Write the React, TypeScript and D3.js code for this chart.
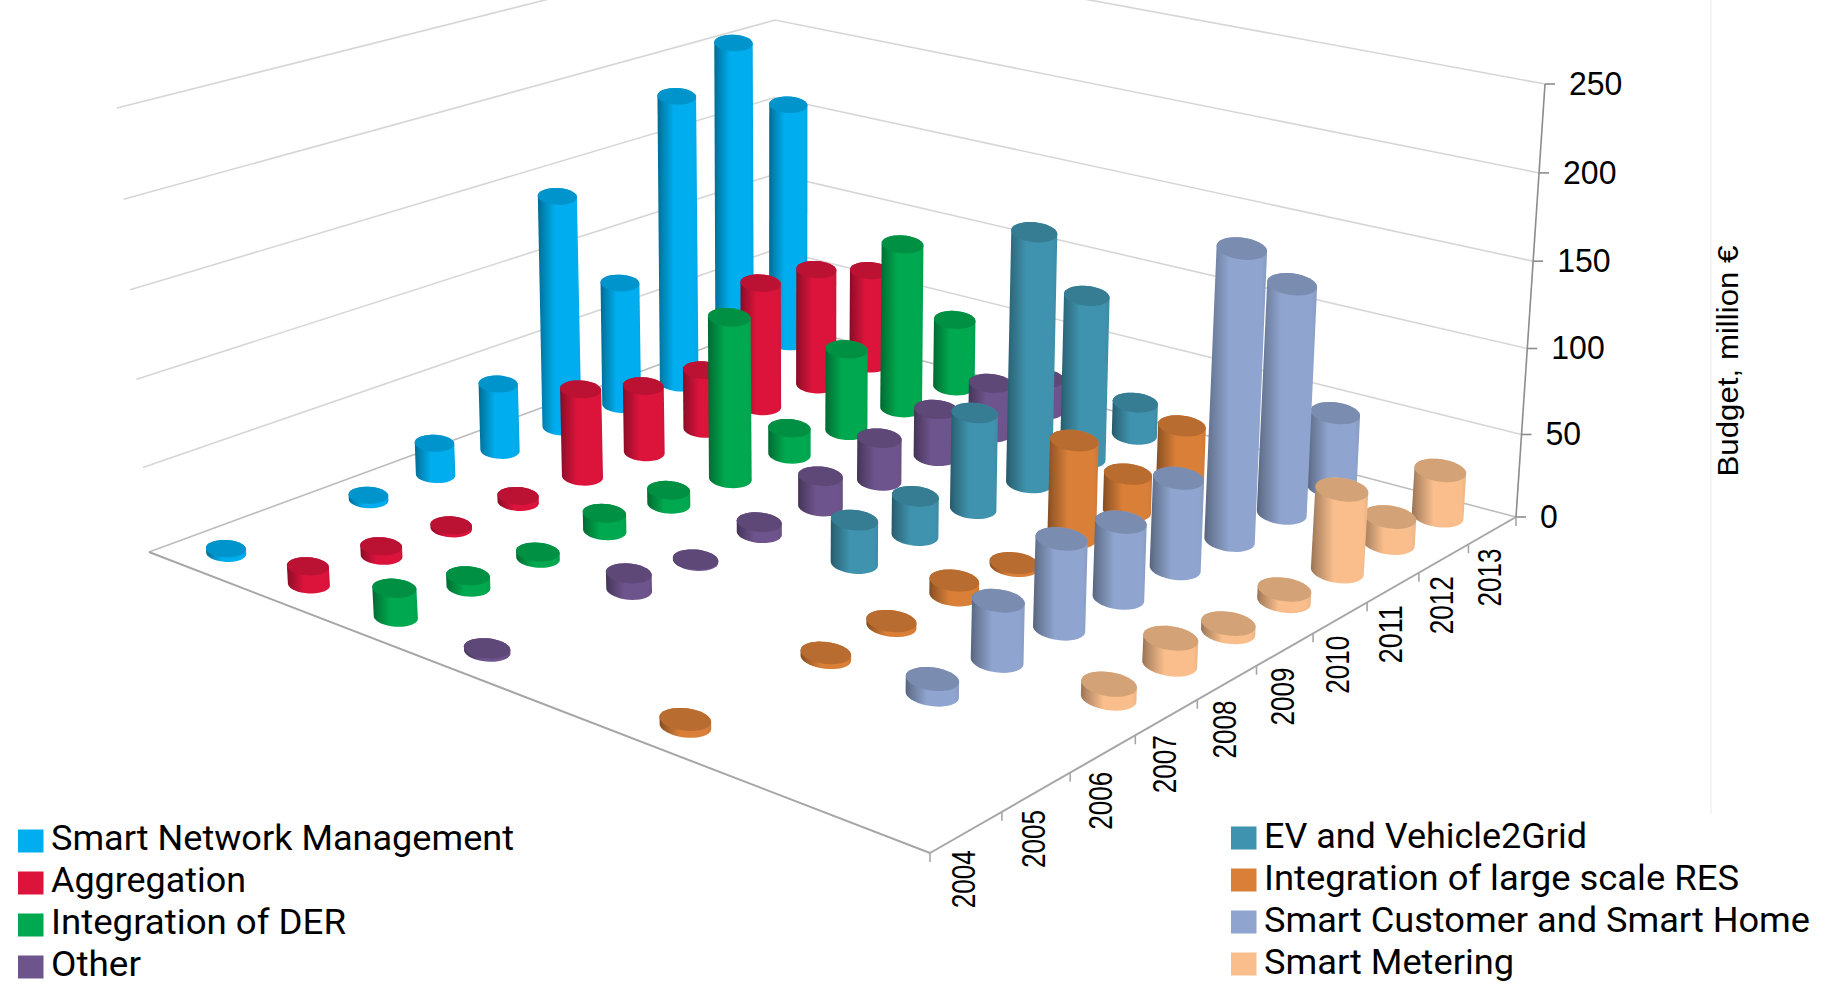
import React from "react";
import * as d3 from "d3";

const years = ["2004","2005","2006","2007","2008","2009","2010","2011","2012","2013"];
const seriesNames = ["Smart Network Management","Aggregation","Integration of DER","Other","EV and Vehicle2Grid","Integration of large scale RES","Smart Customer and Smart Home","Smart Metering"];
const colors = ["#00AEEF","#DC143C","#00A94F","#6E548C","#3F93AE","#D97F38","#8FA5CF","#F9BE8C"];

const smartNetwork = [3,null,3,20,42,143,78,182,205,156];
const aggregation = [11,6,2,4,54,42,38,79,75,62];
const integrationDER = [17,7,4,11,9,98,17,52,104,44];
const other = [2,null,10,1,7,19,27,30,32,21];
const ev = [null,null,null,null,26,24,58,150,100,21];
const largeRES = [4,null,3,3,9,2,58,23,37,null];
const customer = [null,null,9,34,51,44,53,168,135,46];
const metering = [null,null,null,8,15,5,7,48,16,28];
const allSeries = [smartNetwork,aggregation,integrationDER,other,ev,largeRES,customer,metering];

const yTicks = [0,50,100,150,200,250];
const legendLeft = [0,1,2,3];
const legendRight = [4,5,6,7];
const legendWidths = [463,195,295,90,323,475,546,250];

type P = [number, number];
// corners of the box: Left, Bottom(front), Right, Back
const floor: P[] = [[149,552],[930,853],[1516,517],[775,322]];
const roof: P[] = [[117,108],[938,338],[1545,84],[775,-58]];

function quad(c: P[]) {
  const [p0,p1,p2,p3] = c;
  const dx1 = p1[0]-p2[0], dx2 = p3[0]-p2[0], sx = p0[0]-p1[0]+p2[0]-p3[0];
  const dy1 = p1[1]-p2[1], dy2 = p3[1]-p2[1], sy = p0[1]-p1[1]+p2[1]-p3[1];
  const den = dx1*dy2-dx2*dy1;
  const g = (sx*dy2-dx2*sy)/den, h = (dx1*sy-sx*dy1)/den;
  const a = p1[0]-p0[0]+g*p1[0], b = p3[0]-p0[0]+h*p3[0], cc = p0[0];
  const d = p1[1]-p0[1]+g*p1[1], e = p3[1]-p0[1]+h*p3[1], f = p0[1];
  return (u:number,v:number):P => {
    const w = g*u+h*v+1;
    return [(a*u+b*v+cc)/w,(d*u+e*v+f)/w];
  };
}
const floorMap = quad(floor), roofMap = quad(roof);
const zScale = d3.scalePow().exponent(1.03).domain([0,250]).range([0,1]);
const uScale = d3.scaleBand<string>().domain(seriesNames).range([0,1]);
const vScale = d3.scaleBand<string>().domain(years).range([0,1]);

function project(u:number,v:number,z:number):P {
  const a = floorMap(u,v), b = roofMap(u,v), t = zScale(z);
  return [a[0]+(b[0]-a[0])*t, a[1]+(b[1]-a[1])*t];
}
const line = d3.line<P>();
const angles = d3.range(0,360,10).map(d=>d*Math.PI/180);

function ring(u:number,v:number,z:number):P[] {
  const c = project(u,v,z);
  const p0 = project(u,v,0), p1 = project(u+0.01,v,0);
  const local = Math.hypot(p1[0]-p0[0],p1[1]-p0[1])/0.01;
  const rx = 0.029*local, ry = 0.0125*local;
  const tilt = (2+7*u)*Math.PI/180;
  return angles.map(a=>{
    const x = rx*Math.cos(a), y = ry*Math.sin(a);
    return [c[0]+x*Math.cos(tilt)-y*Math.sin(tilt), c[1]+x*Math.sin(tilt)+y*Math.cos(tilt)] as P;
  });
}

const bars = allSeries.flatMap((vals,s)=>vals.map((val,y)=>({s,y,val})))
  .filter(d=>d.val!==null)
  .map(d=>{
    const u = uScale(seriesNames[d.s])!+uScale.bandwidth()/2;
    const v = vScale(years[d.y])!+vScale.bandwidth()/2;
    return {...d,u,v,depth:project(u,v,0)[1]};
  })
  .sort((a,b)=>a.depth-b.depth);

const sans = "'Liberation Sans', Arial, sans-serif";
const legendFont = "Roboto, 'Noto Sans', sans-serif";

export default function App() {
  const edge = (a:P,b:P)=>line([a,b])!;
  return (
    <svg width={1825} height={987} viewBox="0 0 1825 987" style={{position:"absolute",left:0,top:0,display:"block",background:"#fff"}}>
      <defs>
        {colors.map((c,i)=>{
          const base = d3.color(c)!;
          return (
            <linearGradient key={i} id={`g${i}`} x1="0" x2="1" y1="0" y2="0">
              <stop offset="0" stopColor={base.darker(1.4).formatHex()} />
              <stop offset="0.1" stopColor={base.darker(0.9).formatHex()} />
              <stop offset="0.4" stopColor={c} />
              <stop offset="0.9" stopColor={c} />
              <stop offset="1" stopColor={base.darker(0.15).formatHex()} />
            </linearGradient>
          );
        })}
      </defs>
      <line x1={1711} x2={1711} y1={0} y2={814} stroke="#f0f0f0" strokeWidth={1.5} />
      {yTicks.map(t=>(
        <path key={t} d={line([project(0,0,t),project(0,1,t),project(1,1,t)])!} fill="none" stroke={t===0?"#bdbdbd":"#d6d6d6"} strokeWidth={1.6} />
      ))}
      <path d={edge(project(0,0,0),project(1,0,0))} stroke="#a6a6a6" strokeWidth={2} />
      <path d={edge(project(1,0,0),project(1,1,0))} stroke="#a6a6a6" strokeWidth={2} />
      <path d={edge(project(1,1,0),project(1,1,250))} stroke="#8c8c8c" strokeWidth={1.6} />
      {yTicks.map(t=>{
        const p = project(1,1,t);
        return (
          <g key={t}>
            <line x1={p[0]} x2={p[0]+10} y1={p[1]} y2={p[1]} stroke="#8c8c8c" strokeWidth={1.6} />
            <text x={p[0]+24} y={p[1]+11} fontFamily={sans} fontSize={33} fill="#000" textLength={String(t).length*17.8} lengthAdjust="spacingAndGlyphs">{t}</text>
          </g>
        );
      })}
      {d3.range(0,11).map(i=>{
        const p = project(1,i/10,0);
        return <line key={i} x1={p[0]} x2={p[0]} y1={p[1]} y2={p[1]+9} stroke="#a6a6a6" strokeWidth={1.6} />;
      })}
      {years.map(y=>{
        const p = project(1,vScale(y)!+vScale.bandwidth()/2,0);
        return (
          <text key={y} transform={`translate(${p[0]+9},${p[1]+47}) rotate(-90)`} textAnchor="middle" fontFamily={sans} fontSize={33} fill="#000" textLength={58} lengthAdjust="spacingAndGlyphs">{y}</text>
        );
      })}
      <text transform="translate(1738,361) rotate(-90)" textAnchor="middle" fontFamily={sans} fontSize={29} fill="#000" textLength={231} lengthAdjust="spacingAndGlyphs">Budget, million €</text>
      {bars.map(b=>{
        const bottom = ring(b.u,b.v,0);
        const top = ring(b.u,b.v,b.val as number);
        const hull = d3.polygonHull([...bottom,...top])!;
        const base = d3.color(colors[b.s])!;
        return (
          <g key={`${b.s}-${b.y}`}>
            <path d={line(hull)+"Z"} fill={`url(#g${b.s})`} />
            <path d={line(top)+"Z"} fill={base.darker(0.45).formatHex()} />
          </g>
        );
      })}
      {legendLeft.map((s,i)=>(
        <g key={s} transform={`translate(18,${841+i*42})`}>
          <rect x={0} y={-11.5} width={25.5} height={23} fill={colors[s]} />
          <text x={33} y={9} fontFamily={legendFont} fontSize={35} fill="#000" textLength={legendWidths[s]} lengthAdjust="spacingAndGlyphs">{seriesNames[s]}</text>
        </g>
      ))}
      {legendRight.map((s,i)=>(
        <g key={s} transform={`translate(1231,${838+i*42})`}>
          <rect x={0} y={-11.5} width={25.5} height={23} fill={colors[s]} />
          <text x={33} y={10} fontFamily={legendFont} fontSize={35} fill="#000" textLength={legendWidths[s]} lengthAdjust="spacingAndGlyphs">{seriesNames[s]}</text>
        </g>
      ))}
    </svg>
  );
}
